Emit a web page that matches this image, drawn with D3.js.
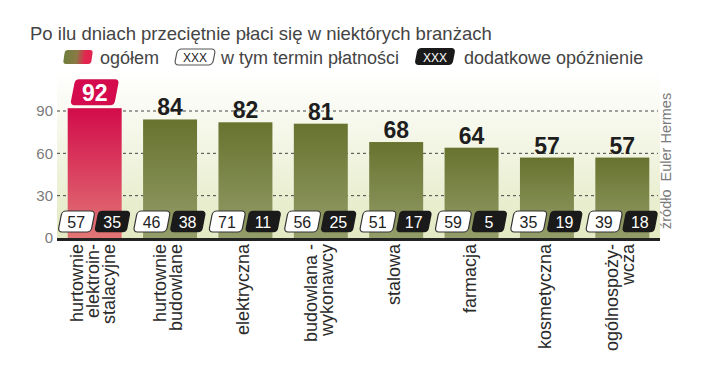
<!DOCTYPE html>
<html><head><meta charset="utf-8">
<script src="https://cdn.jsdelivr.net/npm/d3@7"></script>
<style>
html,body{margin:0;padding:0;background:#fff;}
svg{display:block;font-family:"Liberation Sans",Arial,sans-serif;}
</style></head>
<body>
<svg id="chart" width="720" height="380"></svg>
<script>
const categories = [
  ["hurtownie","elektroin-","stalacyjne"],
  ["hurtownie","budowlane"],
  ["elektryczna"],
  ["budowlana -","wykonawcy"],
  ["stalowa"],
  ["farmacja"],
  ["kosmetyczna"],
  ["ogólnospoży-","wcza"]
];
const totals = [92, 84, 82, 81, 68, 64, 57, 57];
const paymentTerm = [57, 46, 71, 56, 51, 59, 35, 39];
const delay = [35, 38, 11, 25, 17, 5, 19, 18];
const yTicks = [0, 30, 60, 90];
const title = "Po ilu dniach przeciętnie płaci się w niektórych branżach";
const legendLabels = ["ogółem", "w tym termin płatności", "dodatkowe opóźnienie"];
const sourceText = "źródło  Euler Hermes";

const svg = d3.select("#chart");
const defs = svg.append("defs");

function vGrad(id, top, bottom){
  const g = defs.append("linearGradient").attr("id", id).attr("x1",0).attr("y1",0).attr("x2",0).attr("y2",1);
  g.append("stop").attr("offset","0%").attr("stop-color",top);
  g.append("stop").attr("offset","100%").attr("stop-color",bottom);
}
vGrad("bg", "#ffffff", "#e3e9c2");
vGrad("red", "#d20c4a", "#e27676");
vGrad("green", "#68732f", "#939d69");
const lg = defs.append("linearGradient").attr("id","legsw").attr("x1",0).attr("y1",0).attr("x2",1).attr("y2",0);
lg.append("stop").attr("offset","0%").attr("stop-color","#6e7d3c");
lg.append("stop").attr("offset","45%").attr("stop-color","#8a7a45");
lg.append("stop").attr("offset","75%").attr("stop-color","#e2264f");
lg.append("stop").attr("offset","100%").attr("stop-color","#e0244d");

const x = d3.scaleBand().domain(d3.range(categories.length)).range([57, 660]).paddingInner(0.284).paddingOuter(0.142);
const y = d3.scaleLinear().domain([0, 90]).range([238, 111]);

// background
svg.append("rect").attr("x", 57).attr("y", 72).attr("width", 603).attr("height", y(0) - 72).attr("fill", "url(#bg)");

// grid
svg.append("g").selectAll("line").data(yTicks.filter(d => d > 0)).join("line")
  .attr("x1", 57).attr("x2", 658).attr("y1", d => y(d)).attr("y2", d => y(d))
  .attr("stroke", "#444").attr("stroke-width", 1).attr("stroke-dasharray", "3,3");

// y tick labels
svg.append("g").selectAll("text").data(yTicks).join("text")
  .attr("x", 53).attr("y", d => y(d)).attr("dy", "0.36em")
  .attr("text-anchor", "end").attr("font-size", 15).attr("fill", "#7a7a7a")
  .text(d => d);

// bars
const bars = svg.append("g");
bars.selectAll("rect").data(totals).join("rect")
  .attr("x", (d, i) => x(i)).attr("width", x.bandwidth())
  .attr("y", d => y(d)).attr("height", d => y(0) - y(d))
  .attr("fill", (d, i) => i === 0 ? "url(#red)" : "url(#green)");

// skewed rounded box helper
function skewBox(g, cx, cy, w, h, fill, stroke){
  g.append("rect").attr("x", -w/2).attr("y", -h/2).attr("width", w).attr("height", h)
    .attr("rx", 4).attr("ry", 4)
    .attr("fill", fill).attr("stroke", stroke || "none").attr("stroke-width", stroke ? 1.2 : 0)
    .attr("transform", `translate(${cx},${cy}) skewX(-11)`);
}

// value labels
totals.forEach((d, i) => {
  const c = x(i) + x.bandwidth() / 2;
  if (i === 0) {
    skewBox(svg, c, y(d) - 16, 44, 26, "#d40b4c");
    svg.append("text").attr("x", c).attr("y", y(d) - 7.5).attr("text-anchor", "middle")
      .attr("font-size", 23).attr("font-weight", "bold").attr("fill", "#fff").text(d);
  } else {
    svg.append("text").attr("x", c).attr("y", y(d) - 4).attr("text-anchor", "middle")
      .attr("font-size", 23).attr("font-weight", "bold").attr("fill", "#1e1e1e").text(d);
  }
});

// small boxes
const boxCy = 221.5;
paymentTerm.forEach((d, i) => {
  const c = x(i) + x.bandwidth() / 2;
  skewBox(svg, c - 18.2, boxCy, 33, 21, "#ffffff", "#333");
  svg.append("text").attr("x", c - 18.5).attr("y", boxCy + 6).attr("text-anchor", "middle")
    .attr("font-size", 16).attr("fill", "#222").text(d);
  skewBox(svg, c + 17.8, boxCy, 32.5, 21.5, "#1a1a1a");
  svg.append("text").attr("x", c + 17.5).attr("y", boxCy + 6).attr("text-anchor", "middle")
    .attr("font-size", 16).attr("fill", "#fff").text(delay[i]);
});

// baseline
svg.append("line").attr("x1", 57).attr("x2", 660).attr("y1", y(0) + 1.5).attr("y2", y(0) + 1.5)
  .attr("stroke", "#222").attr("stroke-width", 3);

// category labels
categories.forEach((lines, i) => {
  const c = x(i) + x.bandwidth() / 2;
  const n = lines.length;
  lines.forEach((ln, j) => {
    const bx = c + 4 + (j - (n - 1) / 2) * 16;
    svg.append("text").attr("transform", `translate(${bx},244) rotate(-90)`)
      .attr("text-anchor", "end").attr("font-size", 18).attr("fill", "#2a2a2a").text(ln);
  });
});

// source
svg.append("text").attr("transform", "translate(671,229) rotate(-90)")
  .attr("font-size", 14.5).attr("fill", "#7a7a7a").style("white-space", "pre").text(sourceText);

// title
svg.append("text").attr("x", 30).attr("y", 40).attr("font-size", 18.5).attr("fill", "#444").text(title);

// legend
const legY = 64;
svg.append("rect").attr("x", -14).attr("y", -7).attr("width", 28).attr("height", 14).attr("rx", 3)
  .attr("fill", "url(#legsw)").attr("transform", `translate(78,57) skewX(-8)`);
svg.append("text").attr("x", 100).attr("y", legY).attr("font-size", 18).attr("fill", "#444").text(legendLabels[0]);
skewBox(svg, 195, 57, 38, 16, "#fff", "#555");
svg.append("text").attr("x", 195).attr("y", 61.5).attr("text-anchor", "middle").attr("font-size", 12).attr("fill", "#222").text("XXX");
svg.append("text").attr("x", 221).attr("y", legY).attr("font-size", 18).attr("fill", "#444").text(legendLabels[1]);
skewBox(svg, 435, 56.5, 38, 17, "#1a1a1a");
svg.append("text").attr("x", 435).attr("y", 61.5).attr("text-anchor", "middle").attr("font-size", 12).attr("fill", "#fff").text("XXX");
svg.append("text").attr("x", 464).attr("y", legY).attr("font-size", 18).attr("fill", "#444").text(legendLabels[2]);
</script>
</body></html>
